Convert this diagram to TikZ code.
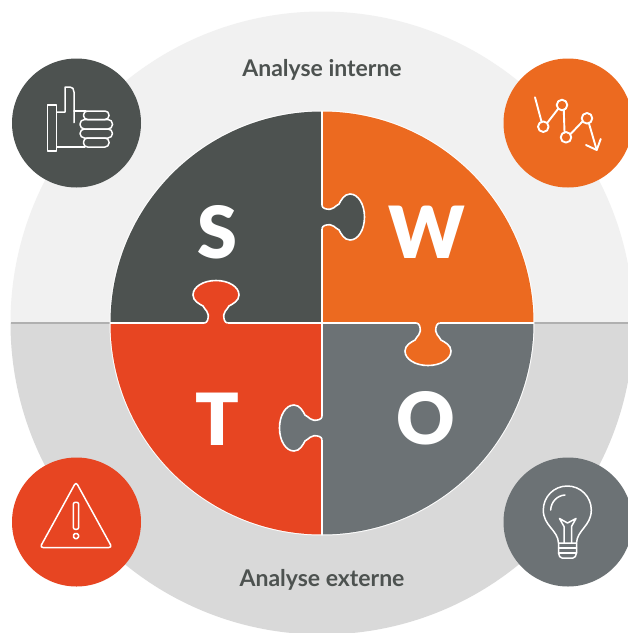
\documentclass[tikz,border=0pt]{standalone}
\usepackage{fontspec}
\setmainfont{Lato}
\newfontfamily\heavyfont{Lato Black}
\definecolor{cS}{HTML}{4D5250}
\definecolor{cW}{HTML}{EC6A20}
\definecolor{cT}{HTML}{E74522}
\definecolor{cO}{HTML}{6C7275}
\definecolor{topbg}{HTML}{F1F1F1}
\definecolor{botbg}{HTML}{D9D9D9}
\definecolor{midline}{HTML}{B0B0B0}
\newcommand{\tabcurve}{(0,-11.5) .. controls (0.5,-8.5) and (4,-7.7) .. (8,-7.7) .. controls (11,-7.7) and (12,-10) .. (17,-13) .. controls (19,-16.5) and (22,-23) .. (28,-23) .. controls (36,-23) and (42.5,-13) .. (42.5,0) .. controls (42.5,13) and (36,23) .. (28,23) .. controls (22,23) and (19,16.5) .. (17,13) .. controls (12,10) and (11,7.7) .. (8,7.7) .. controls (4,7.7) and (0.5,8.5) .. (0,11.5)}
\newcommand{\puzzletab}[3]{%
  \begin{scope}[shift={#1},rotate=#2]
    \fill[#3] (-2,-11.5) -- \tabcurve -- (-2,11.5) -- cycle;
    \draw[white,line width=1.6pt] \tabcurve;
  \end{scope}}
\tikzset{
  icon/.style={white,line width=1.5pt,line join=round,line cap=round,fill=none},
  letter/.style={white,font=\fontsize{72}{72}\selectfont\heavyfont,inner sep=0pt},
  heading/.style={text=cS,font=\fontsize{23}{26}\selectfont\bfseries,inner sep=0pt}
}
\begin{document}
\begin{tikzpicture}[x=1pt,y=-1pt]
\useasboundingbox (0,0) rectangle (628,633);
\clip (0,0) rectangle (628,633);
\fill[white] (0,0) rectangle (628,633);
% background disc
\begin{scope}
  \clip (0,0) rectangle (628,323);
  \fill[topbg] (322,323) circle[radius=311.5];
\end{scope}
\begin{scope}
  \clip (0,323) rectangle (628,633);
  \fill[botbg] (322,323) circle[radius=311.5];
\end{scope}
\draw[midline,line width=2pt] (10.5,323) -- (628,323);
% quarters
\fill[white] (322,323) circle[radius=212.5];
\begin{scope}
  \clip (322,323) circle[radius=211.5];
  \fill[cS] (100,100) rectangle (322,323);
  \fill[cW] (322,100) rectangle (545,323);
  \fill[cO] (322,323) rectangle (545,545);
  \fill[cT] (100,323) rectangle (322,545);
\end{scope}
\draw[white,line width=1.6pt] (110,323) -- (534,323) (322,111) -- (322,535);
% tabs
\puzzletab{(322,217)}{0}{cS}
\puzzletab{(216,323)}{90}{cT}
\puzzletab{(428,323)}{-90}{cW}
\puzzletab{(322,428)}{180}{cO}
% letters
\node[letter] (s) at (217,232) {S};
\node[letter] (w) at (426.5,232) {W};
\node[letter] (t) at (217,419) {T};
\node[letter] (o) at (426,418) {O};
% headings
\node[heading] (hi) at (322,70) {Analyse interne};
\node[heading] (he) at (322,580) {Analyse externe};
% icon discs
\fill[cS] (76.5,123) circle[radius=64.5];
\fill[cW] (568,123) circle[radius=64.5];
\fill[cT] (76.5,522) circle[radius=64.5];
\fill[cO] (568,522) circle[radius=64.5];
% thumb
\draw[icon] (47.7,105) rectangle (56.7,151);
\draw[icon] (57,112) -- (65,112) -- (65,87) -- (70,87) .. controls (72.5,87) and (74,89) .. (74,92) -- (74,122.7);
\draw[icon] (74,111) -- (86,111);
\draw[icon] (57,147) -- (85,147);
\draw[icon,rounded corners=4pt] (83.5,111) rectangle (109,119.5);
\draw[icon,rounded corners=4.5pt] (80,119.5) rectangle (112.5,129);
\draw[icon,rounded corners=4.5pt] (80,129) rectangle (112.5,138);
\draw[icon,rounded corners=4pt] (83.5,138) rectangle (109,147);
% chart
\coordinate (c1) at (543.3,126.7);
\coordinate (c2) at (562,105);
\coordinate (c3) at (566,137.3);
\coordinate (c4) at (587,118.3);
\draw[icon,line width=1.9pt] (c1) circle[radius=5.3] (c2) circle[radius=5.3] (c3) circle[radius=5.3] (c4) circle[radius=5.3];
\draw[icon,line width=1.9pt] (535,97.3) -- (541.5,121.5);
\draw[icon,line width=1.9pt] (547.3,122.8) -- (558,109);
\draw[icon,line width=1.9pt] (563.8,110.2) -- (564.5,132);
\draw[icon,line width=1.9pt] (570.6,134) -- (582.4,121.6);
\draw[icon,line width=1.9pt] (589,123.5) -- (596.7,150);
\draw[icon,line width=1.9pt] (586,145) -- (596.7,150) -- (600.7,139);
% warning
\draw[icon,rounded corners=3pt] (76,482) -- (40,547.5) -- (112,547.5) -- cycle;
\draw[icon,rounded corners=2pt] (73.3,502.3) rectangle (78.7,529.3);
\draw[icon,rounded corners=1.5pt] (73.5,533.5) rectangle (78.5,538.5);
% bulb
\draw[icon] (558.5,543) .. controls (558,530) and (543.3,526) .. (543.3,510) .. controls (543.3,496.7) and (554,486) .. (567.3,486) .. controls (580.6,486) and (591.3,496.7) .. (591.3,510) .. controls (591.3,526) and (577,530) .. (576.5,543) -- cycle;
\draw[icon] (550.7,510) .. controls (551,502) and (557,495.5) .. (565,495);
\draw[icon] (564,543) -- (564,526.5) -- (559.5,518.5) -- (567.5,523) -- (576,518.5) -- (571.5,526.5) -- (571.5,543);
\draw[icon] (558.5,548) -- (576.5,548) (558.5,553) -- (576.5,553);
\draw[icon] (558.5,543) -- (558.5,553) .. controls (559,556) and (560,558) .. (562,558) -- (573,558) .. controls (575,558) and (576,556) .. (576.5,553) -- (576.5,543);
\end{tikzpicture}
\end{document}
